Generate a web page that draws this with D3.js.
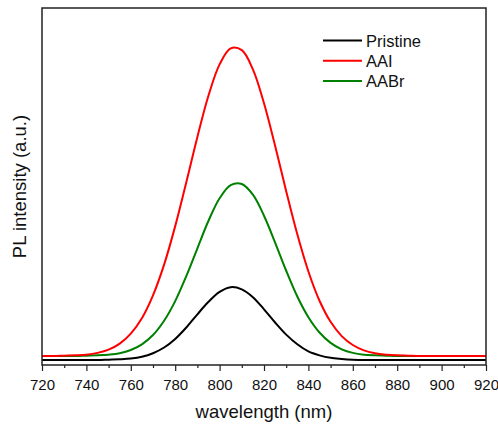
<!DOCTYPE html>
<html>
<head>
<meta charset="utf-8">
<script src="https://cdn.jsdelivr.net/npm/d3@7"></script>
<style>
  html, body { margin: 0; padding: 0; background: #fff; }
  svg text { font-family: "Liberation Sans", Arial, sans-serif; fill: #111; }
</style>
</head>
<body>
<svg id="chart" width="498" height="428"></svg>
<script>
// Wavelength grid (nm)
const wavelength = [720,725,730,735,740,745,750,755,760,765,770,775,780,785,790,795,800,805,810,815,820,825,830,835,840,845,850,855,860,865,870,875,880,885,890,895,900,905,910,915,920];

// PL intensity (a.u.) for each sample
const pristine = [0.014,0.014,0.014,0.014,0.014,0.014,0.015,0.016,0.018,0.023,0.033,0.049,0.073,0.105,0.142,0.177,0.205,0.218,0.212,0.190,0.156,0.119,0.085,0.058,0.038,0.027,0.020,0.017,0.015,0.014,0.014,0.014,0.014,0.014,0.014,0.014,0.014,0.014,0.014,0.014,0.014];
const aai = [0.025,0.025,0.026,0.027,0.029,0.034,0.043,0.060,0.088,0.131,0.195,0.281,0.389,0.512,0.639,0.755,0.842,0.887,0.882,0.828,0.733,0.614,0.487,0.366,0.262,0.180,0.121,0.081,0.056,0.041,0.033,0.029,0.027,0.026,0.025,0.025,0.025,0.025,0.025,0.025,0.025];
const aabr = [0.025,0.025,0.025,0.025,0.026,0.027,0.029,0.033,0.042,0.058,0.084,0.124,0.179,0.249,0.327,0.404,0.467,0.504,0.507,0.477,0.418,0.343,0.264,0.192,0.134,0.091,0.062,0.044,0.034,0.029,0.027,0.026,0.025,0.025,0.025,0.025,0.025,0.025,0.025,0.025,0.025];

const seriesNames = ["Pristine", "AAI", "AABr"];
const seriesColors = ["#000000", "#ff0000", "#008000"];
const seriesValues = [pristine, aai, aabr];

const xTicks = [720,740,760,780,800,820,840,860,880,900,920];
const xMinorTicks = d3.range(730, 920, 20);

const m = { left: 42, right: 486, top: 8, bottom: 365 };

const svg = d3.select("#chart");
const x = d3.scaleLinear().domain([720, 920]).range([m.left, m.right]);
const y = d3.scaleLinear().domain([0, 1]).range([m.bottom, m.top]);

// Curves
const line = d3.line()
  .x(d => x(d[0]))
  .y(d => y(d[1]))
  .curve(d3.curveCatmullRom.alpha(0.5));

const plot = svg.append("g");
plot.append("clipPath").attr("id", "clip")
  .append("rect").attr("x", m.left).attr("y", m.top)
  .attr("width", m.right - m.left).attr("height", m.bottom - m.top);

// draw black, green, red in that order so red sits on top at the baseline
[0, 2, 1].forEach(i => {
  const pts = wavelength.map((w, j) => [w, seriesValues[i][j]]);
  plot.append("path")
    .attr("clip-path", "url(#clip)")
    .attr("d", line(pts))
    .attr("fill", "none")
    .attr("stroke", seriesColors[i])
    .attr("stroke-width", 2);
});

// Frame
svg.append("rect")
  .attr("x", m.left).attr("y", m.top)
  .attr("width", m.right - m.left).attr("height", m.bottom - m.top)
  .attr("fill", "none").attr("stroke", "#222").attr("stroke-width", 1.5);

// X axis
const xAxis = d3.axisBottom(x).tickValues(xTicks).tickSize(6).tickPadding(8).tickFormat(d3.format("d"));
const gx = svg.append("g").attr("transform", `translate(0,${m.bottom})`).call(xAxis);
gx.select(".domain").remove();
gx.selectAll(".tick line").attr("stroke", "#222").attr("stroke-width", 1.2);
gx.selectAll(".tick text").style("font-size", "15px").style("font-family", "Liberation Sans, Arial, sans-serif").attr("fill", "#111");

const xMinor = d3.axisBottom(x).tickValues(xMinorTicks).tickSize(3).tickFormat("");
const gxm = svg.append("g").attr("transform", `translate(0,${m.bottom})`).call(xMinor);
gxm.select(".domain").remove();
gxm.selectAll(".tick line").attr("stroke", "#222").attr("stroke-width", 1.2);

// Axis titles
svg.append("text")
  .attr("x", (m.left + m.right) / 2).attr("y", 418)
  .attr("text-anchor", "middle")
  .style("font-size", "18.5px")
  .text("wavelength (nm)");

svg.append("text")
  .attr("transform", `translate(26,${(m.top + m.bottom) / 2}) rotate(-90)`)
  .attr("text-anchor", "middle")
  .style("font-size", "18.5px")
  .text("PL intensity (a.u.)");

// Legend
const legend = svg.append("g").attr("transform", "translate(323,40.5)");
seriesNames.forEach((name, i) => {
  const row = legend.append("g").attr("transform", `translate(0,${i * 20.3})`);
  row.append("line").attr("x1", 0).attr("x2", 39).attr("y1", 0).attr("y2", 0)
    .attr("stroke", seriesColors[i]).attr("stroke-width", 2);
  row.append("text").attr("x", 43).attr("y", 6).style("font-size", "16.5px").text(name);
});
</script>
</body>
</html>
